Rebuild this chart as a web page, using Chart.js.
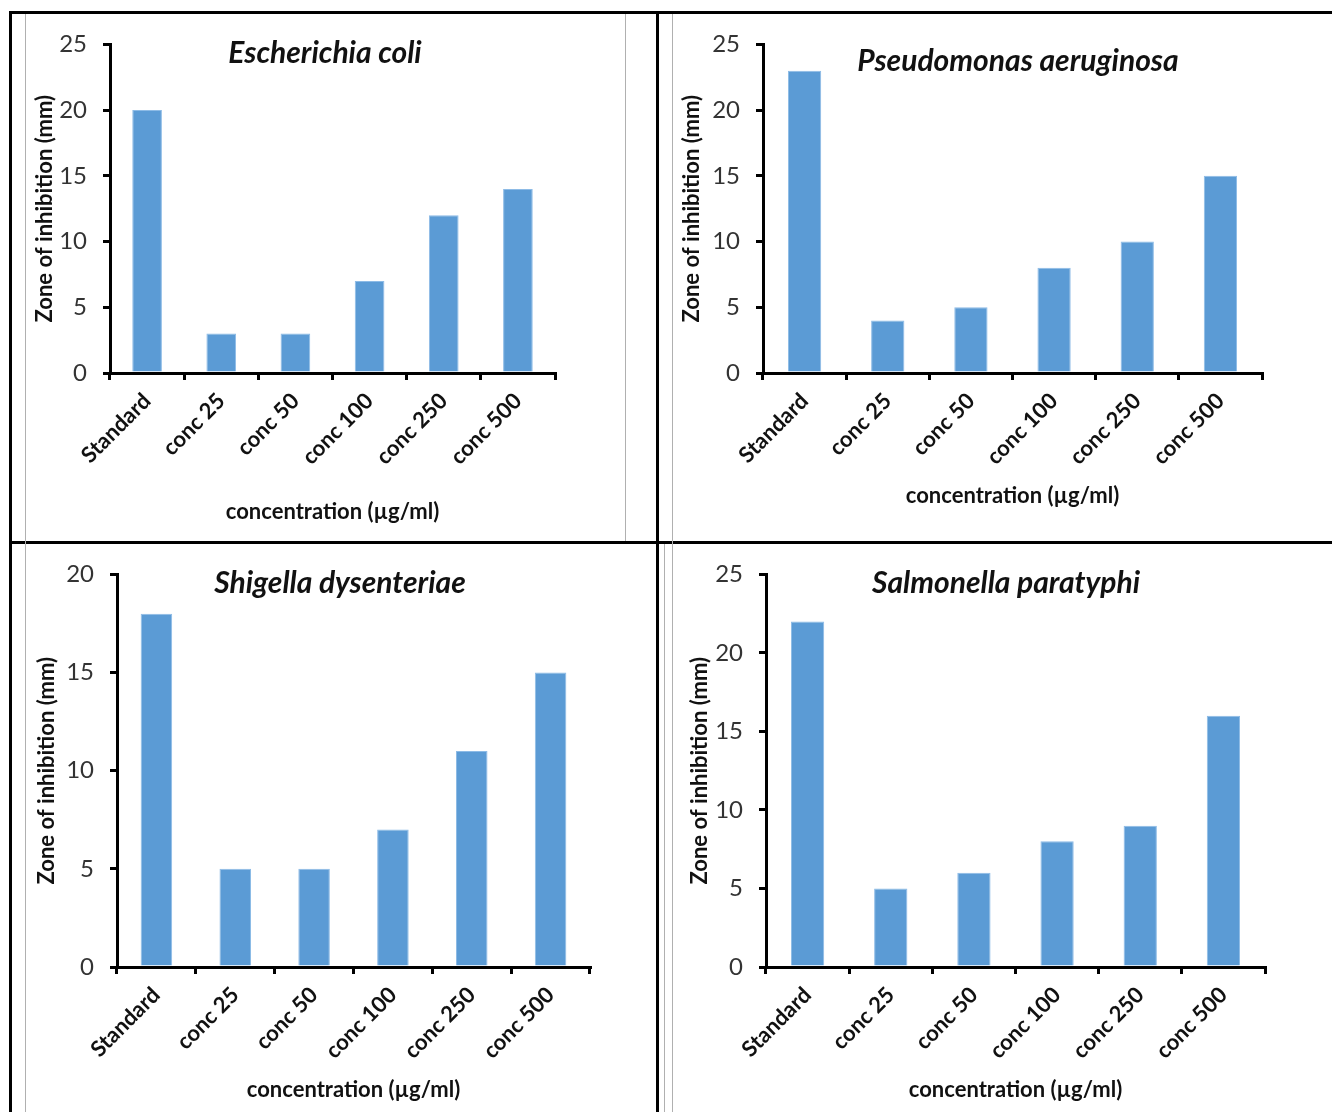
<!DOCTYPE html>
<html>
<head>
<meta charset="utf-8">
<script src="https://cdn.jsdelivr.net/npm/chart.js@4.4.0/dist/chart.umd.min.js"></script>
<style>
  body { margin: 0; background: #fff; width: 1332px; height: 1112px; position: relative; overflow: hidden; }
  canvas { position: absolute; }
  .ln { position: absolute; }
  .blk { background: #000; }
  .gry { background: #b0b0b0; }
</style>
</head>
<body>
<!-- table borders -->
<div class="ln blk" style="left:9px;top:11px;width:1323px;height:3px"></div>
<div class="ln blk" style="left:9px;top:11px;width:3px;height:1101px"></div>
<div class="ln blk" style="left:656px;top:11px;width:3px;height:1101px"></div>
<div class="ln blk" style="left:9px;top:541px;width:1323px;height:3px"></div>
<div class="ln gry" style="left:25px;top:14px;width:1px;height:1098px"></div>
<div class="ln gry" style="left:625px;top:14px;width:1px;height:527px"></div>
<div class="ln gry" style="left:672px;top:14px;width:1px;height:1098px"></div>
<div class="ln gry" style="left:664px;top:544px;width:1px;height:568px"></div>

<canvas id="c1"></canvas>
<canvas id="c2"></canvas>
<canvas id="c3"></canvas>
<canvas id="c4"></canvas>

<script>
// data
const categories = ["Standard", "conc 25", "conc 50", "conc 100", "conc 250", "conc 500"];
const ecoliValues = [20, 3, 3, 7, 12, 14];
const pseudomonasValues = [23, 4, 5, 8, 10, 15];
const shigellaValues = [18, 5, 5, 7, 11, 15];
const salmonellaValues = [22, 5, 6, 8, 9, 16];
const chartTitles = ["Escherichia coli", "Pseudomonas aeruginosa", "Shigella dysenteriae", "Salmonella paratyphi"];
const yMaxes = [25, 25, 20, 25];
const yAxisTitle = "Zone of inhibition (mm)";
const xAxisTitle = "concentration (\u00b5g/ml)";

// page positions (canvas box, plot area, axis title centres, chart title centre)
const layouts = [
  { id: "c1", cl: 12,  ct: 14,  cw: 644, ch: 527, al: 110, ar: 555,  at: 40,  ab: 373, yt: 45,  xt: 512,  tx: 325,  ty: 53 },
  { id: "c2", cl: 659, ct: 14,  cw: 673, ch: 527, al: 763, ar: 1262, at: 40,  ab: 373, yt: 692, xt: 496,  tx: 1018, ty: 61 },
  { id: "c3", cl: 12,  ct: 544, cw: 644, ch: 568, al: 117, ar: 590,  at: 572, ab: 967, yt: 47,  xt: 1090, tx: 340,  ty: 583 },
  { id: "c4", cl: 659, ct: 544, cw: 673, ch: 568, al: 766, ar: 1265, at: 572, ab: 967, yt: 700, xt: 1090, tx: 1006, ty: 583 }
];
const allValues = [ecoliValues, pseudomonasValues, shigellaValues, salmonellaValues];

const FONT = "Lato, 'Open Sans', sans-serif";
const yTitleSize = 22, xTitleSize = 22;

// title drawn inside the plot area, like the original
const innerTitle = {
  id: "innerTitle",
  afterDraw(chart, args, opts) {
    const ctx = chart.ctx;
    ctx.save();
    ctx.font = "italic bold 30px " + FONT;
    ctx.fillStyle = "#111";
    ctx.textAlign = "center";
    ctx.textBaseline = "middle";
    ctx.fillText(opts.text, opts.x, opts.y);
    ctx.restore();
  }
};

layouts.forEach((L, i) => {
  const cv = document.getElementById(L.id);
  cv.width = L.cw; cv.height = L.ch;
  cv.style.left = L.cl + "px"; cv.style.top = L.ct + "px";

  const padLeft = L.yt - L.cl - yTitleSize * 1.2 / 2;
  const yWidth = L.al - L.cl - padLeft;
  const xHeight = L.xt + xTitleSize * 1.2 / 2 - L.ab;
  const padBottom = L.ct + L.ch - L.ab - xHeight;
  const padding = { left: padLeft, top: L.at - L.ct, right: L.cl + L.cw - L.ar, bottom: padBottom };

  const chart = new Chart(cv.getContext("2d"), {
    type: "bar",
    data: {
      labels: categories,
      datasets: [{
        data: allValues[i],
        backgroundColor: "#5B9BD5",
        borderColor: "#8DBBE6",
        borderWidth: 1,
        barPercentage: 0.8,
        categoryPercentage: 0.5
      }]
    },
    options: {
      responsive: false,
      animation: false,
      devicePixelRatio: 1,
      layout: { padding: padding },
      plugins: {
        legend: { display: false },
        tooltip: { enabled: false },
        innerTitle: { text: chartTitles[i], x: L.tx - L.cl, y: L.ty - L.ct }
      },
      scales: {
        x: {
          grid: { display: true, drawOnChartArea: false, drawTicks: true, tickLength: 7, color: "#000", lineWidth: 3, offset: true },
          border: { display: true, color: "#000", width: 3 },
          ticks: { minRotation: 45, maxRotation: 45, padding: 8, color: "#111", font: { family: FONT, size: 22, weight: "bold" } },
          title: { display: true, text: xAxisTitle, color: "#111", padding: 0, font: { family: FONT, size: xTitleSize, weight: "bold" } },
          afterFit(scale) { scale.height = xHeight; }
        },
        y: {
          min: 0, max: yMaxes[i],
          grid: { display: true, drawOnChartArea: false, drawTicks: true, tickLength: 7, color: "#000", lineWidth: 3 },
          border: { display: true, color: "#000", width: 3 },
          ticks: { stepSize: 5, padding: 16, color: "#333", font: { family: FONT, size: 24 } },
          title: { display: true, text: yAxisTitle, color: "#111", padding: 0, font: { family: FONT, size: yTitleSize, weight: "bold" } },
          afterFit(scale) { scale.width = yWidth; }
        }
      }
    },
    plugins: [innerTitle]
  });

  // nudge padding so the plot area lands where the original has it
  const ys = chart.scales.y;
  const dTop = (L.at - L.ct) - ys.top;
  const dBottom = (L.ab - L.ct) - ys.bottom;
  if (Math.abs(dTop) > 0.5 || Math.abs(dBottom) > 0.5) {
    const p = chart.config.options.layout.padding;
    p.top += dTop;
    p.bottom -= dBottom;
    chart.update();
  }
});
</script>
</body>
</html>
